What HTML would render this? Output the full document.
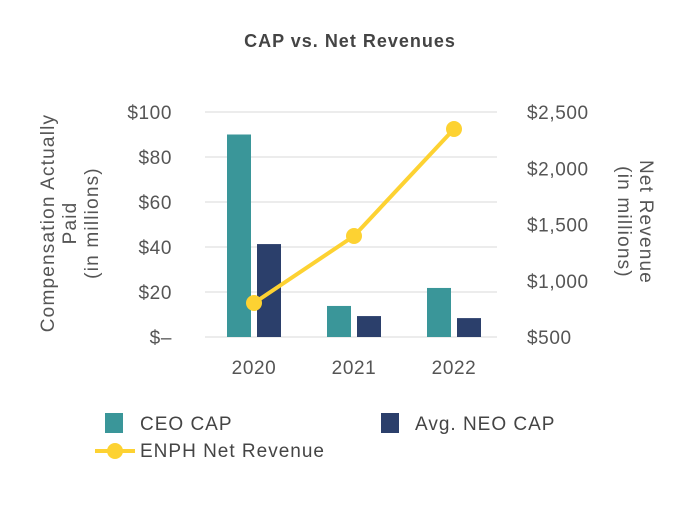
<!DOCTYPE html>
<html><head><meta charset="utf-8"><style>
body{margin:0;background:#fff;font-family:"Liberation Sans",sans-serif}
svg text{font-family:"Liberation Sans",sans-serif;letter-spacing:0.6px}
</style></head><body>
<svg width="700" height="500">
<text x="350" y="47" text-anchor="middle" font-size="18" font-weight="bold" fill="#444" style="letter-spacing:1px">CAP vs. Net Revenues</text>
<g id="grid"></g>
<g id="left"></g>
<g id="right"></g>
<g id="bars"></g>
<g id="line"></g>
<g id="xax"></g>
<text transform="translate(62,223) rotate(-90)" text-anchor="middle" font-size="19" fill="#555" style="letter-spacing:1.2px"><tspan x="0" dy="-8">Compensation Actually</tspan><tspan x="0" dy="22">Paid</tspan><tspan x="0" dy="22">(in millions)</tspan></text>
<text transform="translate(640,222) rotate(90)" text-anchor="middle" font-size="19" fill="#555" style="letter-spacing:1.2px"><tspan x="0" dy="0">Net Revenue</tspan><tspan x="0" dy="22">(in millions)</tspan></text>
<rect x="105" y="413" width="18" height="20" fill="#3a9699"/>
<text x="140" y="430" font-size="19" fill="#444" style="letter-spacing:1px">CEO CAP</text>
<rect x="381" y="413" width="18" height="20" fill="#2b3f6b"/>
<text x="415" y="430" font-size="19" fill="#444" style="letter-spacing:1px">Avg. NEO CAP</text>
<line x1="95" y1="451" x2="135" y2="451" stroke="#fdd232" stroke-width="4"/>
<circle cx="115" cy="451" r="8" fill="#fdd232"/>
<text x="140" y="457" font-size="19" fill="#444" style="letter-spacing:1px">ENPH Net Revenue</text>
</svg>
<script>
const categories=["2020","2021","2022"];
const ceoCap=[90,13.8,21.8];
const neoCap=[41.3,9.3,8.4];
const revenue=[802,1398,2349];
const leftTicks=[0,20,40,60,80,100];
const leftLabels=["$–","$20","$40","$60","$80","$100"];
const rightTicks=[500,1000,1500,2000,2500];
const rightLabels=["$500","$1,000","$1,500","$2,000","$2,500"];
const NS="http://www.w3.org/2000/svg";
const yL=v=>337-v*2.25;
const yR=v=>337-(v-500)*0.1125;
const xC=i=>254+i*100;
function mk(p,t,a){const e=document.createElementNS(NS,t);for(const k in a)e.setAttribute(k,a[k]);document.getElementById(p).appendChild(e);return e;}
leftTicks.forEach((v,i)=>{
 const g=mk('grid','line',{x1:205,x2:497,y1:yL(v),y2:yL(v),stroke:'#e6e6e6','stroke-width':1.5});
 
 
 const t=mk('left','text',{x:172,y:yL(v)+7,'text-anchor':'end','font-size':19,fill:'#555'});t.textContent=leftLabels[i];
 
 
});
rightTicks.forEach((v,i)=>{
 const t=mk('right','text',{x:527,y:yR(v)+7,'font-size':19,fill:'#555'});t.textContent=rightLabels[i];
 
 
});
categories.forEach((c,i)=>{
 const a=mk('bars','rect',{x:xC(i)-27,y:yL(ceoCap[i]),width:24,height:337-yL(ceoCap[i]),fill:'#3a9699'});
 
 
 const b=mk('bars','rect',{x:xC(i)+3,y:yL(neoCap[i]),width:24,height:337-yL(neoCap[i]),fill:'#2b3f6b'});
 
 
 const t=mk('xax','text',{x:xC(i),y:374,'text-anchor':'middle','font-size':19,fill:'#555'});t.textContent=c;
 
 
});
const pl=mk('line','polyline',{points:revenue.map((v,i)=>xC(i)+','+yR(v)).join(' '),fill:'none',stroke:'#fdd232','stroke-width':4});


revenue.forEach((v,i)=>{
 const d=mk('line','circle',{cx:xC(i),cy:yR(v),r:8,fill:'#fdd232'});
 
 
});
</script>
</body></html>
